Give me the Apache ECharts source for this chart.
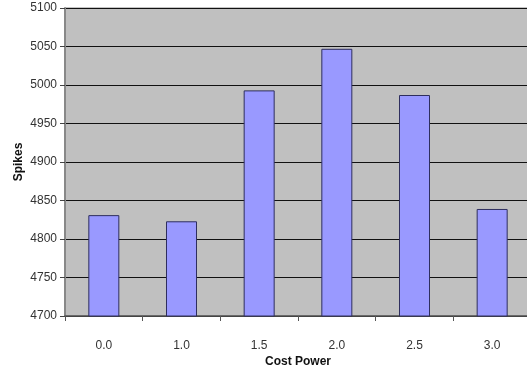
<!DOCTYPE html>
<html>
<head>
<meta charset="utf-8">
<script src="https://cdn.jsdelivr.net/npm/echarts@6/dist/echarts.min.js"></script>
<style>html,body{margin:0;padding:0;background:#fff;}#c{width:527px;height:371px;}</style>
</head>
<body>
<div id="c"></div>
<script>
const categories = ['0.0', '1.0', '1.5', '2.0', '2.5', '3.0'];
const spikes = [4831, 4823, 4993, 5047, 4987, 4839];
const yMin = 4700, yMax = 5100, yStep = 50;

const chart = echarts.init(document.getElementById('c'), null, {renderer: 'canvas'});
const font = 'Liberation Sans, Arial, sans-serif';
chart.setOption({
  animation: false,
  backgroundColor: '#ffffff',
  grid: {
    left: 65, top: 8, width: 466, bottom: 55,
    outerBoundsMode: 'none',
    show: true, backgroundColor: '#c0c0c0', borderColor: '#888888', borderWidth: 1
  },
  xAxis: {
    type: 'category',
    data: categories,
    name: 'Cost Power',
    nameLocation: 'middle',
    nameGap: 40,
    nameMoveOverlap: false,
    nameTextStyle: {fontFamily: font, fontSize: 12, fontWeight: 'bold', color: '#111'},
    axisLine: {lineStyle: {color: '#555555', width: 1.5}},
    axisTick: {show: true, length: 5, lineStyle: {color: '#555555'}},
    axisLabel: {fontFamily: font, fontSize: 12, color: '#333', margin: 24},
    splitLine: {show: false}
  },
  yAxis: {
    type: 'value',
    min: yMin, max: yMax, interval: yStep,
    name: 'Spikes',
    nameLocation: 'middle',
    nameGap: 40,
    nameRotate: 90,
    nameMoveOverlap: false,
    nameTextStyle: {fontFamily: font, fontSize: 12, fontWeight: 'bold', color: '#111'},
    axisLine: {show: true, lineStyle: {color: '#888888', width: 2}},
    axisTick: {show: true, length: 5, lineStyle: {color: '#444444'}},
    axisLabel: {fontFamily: font, fontSize: 12, color: '#333', margin: 8, formatter: v => String(v)},
    splitLine: {show: true, lineStyle: {color: '#111111', width: 1}}
  },
  series: [{
    type: 'bar',
    data: spikes,
    barWidth: 31,
    itemStyle: {color: '#9999ff', borderColor: '#2e2e5e', borderWidth: 1}
  }]
});
</script>
</body>
</html>
